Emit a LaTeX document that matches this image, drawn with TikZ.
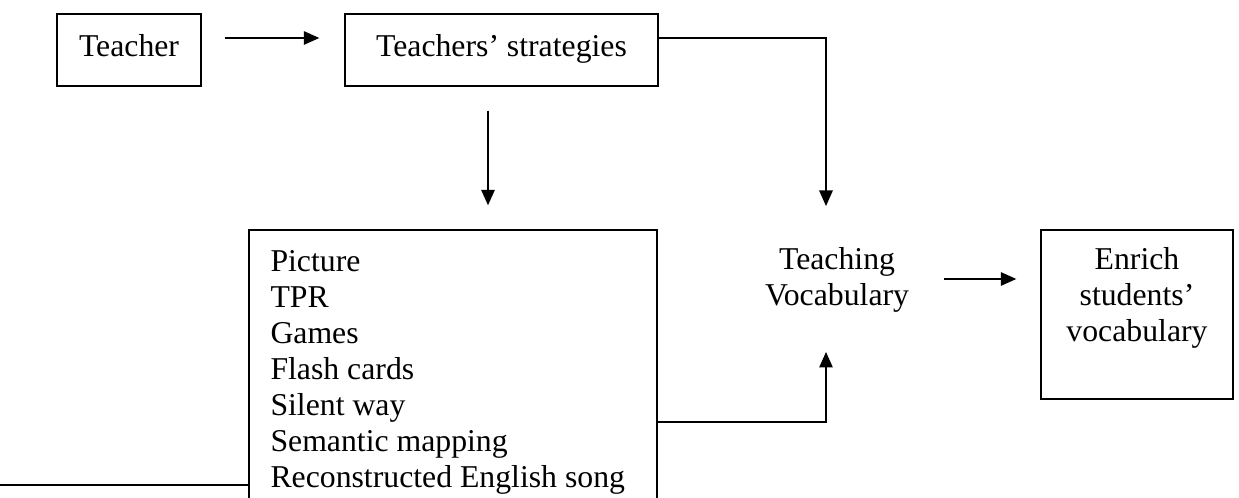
\documentclass[tikz,border=0pt]{standalone}
\usepackage{fontspec}
\setmainfont{Liberation Serif}
\usetikzlibrary{arrows.meta,fit}
\begin{document}
\begin{tikzpicture}[x=0.4pt,y=-0.4pt,
  font=\fontsize{12.7}{14.4}\selectfont,
  frame/.style={draw, line width=0.55pt, inner sep=0pt},
  txt/.style={inner sep=0pt, anchor=base},
  conn/.style={line width=0.55pt},
  arr/.style={conn, -{Triangle[length=6.2pt,width=5.4pt]}}]
\useasboundingbox (0,0) rectangle (1239,498);
\clip (0,0) rectangle (1239,498);
% boxes
\node[frame, fit={(57,14) (201,86)}] (teacher) {};
\node[txt] (teachert) at (129,57) {Teacher};
\node[frame, fit={(345,14) (658,86)}] (strat) {};
\node[txt] (stratt) at (501.5,57) {Teachers' strategies};
\node[frame, fit={(249,230) (657,530)}] (list) {};
\node[txt, align=left, anchor=base west] (listt) at (270,488)
  {Picture\\TPR\\Games\\Flash cards\\Silent way\\Semantic mapping\\Reconstructed English song};
\node[txt, align=center] (teach) at (837,306) {Teaching\\Vocabulary};
\node[frame, fit={(1041,230) (1233,399)}] (enrich) {};
\node[txt, align=center] (enricht) at (1137,342) {Enrich\\students'\\vocabulary};
% free ends
\coordinate (tin) at (826,206);
\coordinate (tin2) at (826,352);
\coordinate (lend) at (0,485);
% connectors
\draw[arr] ([shift={(23,-12)}]teacher.east) -- ([shift={(-25,-12)}]strat.west);
\draw[arr] ([shift={(0,-12)}]strat.east) -| (tin);
\draw[arr] ([shift={(-13.5,24)}]strat.south) -- ([shift={(35,-24)}]list.north);
\draw[arr] ([shift={(0,42)}]list.east) -| (tin2);
\draw[conn] (list.west |- lend) -- (lend);
\draw[arr] ([shift={(-96,-35.5)}]enrich.west) -- ([shift={(-24,-35.5)}]enrich.west);
\end{tikzpicture}
\end{document}
